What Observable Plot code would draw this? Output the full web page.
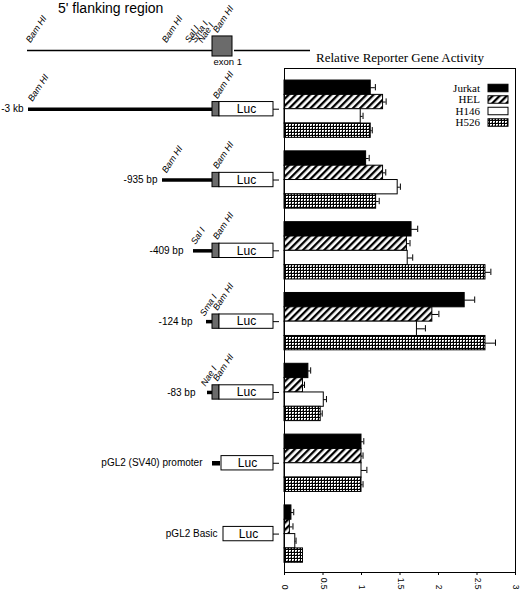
<!DOCTYPE html>
<html>
<head>
<meta charset="utf-8">
<script src="https://cdn.jsdelivr.net/npm/d3@7"></script>
<script src="https://cdn.jsdelivr.net/npm/@observablehq/plot@0.6"></script>
<style>
  body { margin: 0; background: #fff; }
  #fig { position: relative; width: 520px; height: 592px; overflow: hidden; background: #fff; }
  #fig > svg, #fig > div { position: absolute; left: 0; top: 0; }
  #maptitle { font: 14px "Liberation Sans", Arial, sans-serif; line-height: 16px; white-space: nowrap; }
</style>
</head>
<body>
<svg width="0" height="0" style="position:absolute">
  <defs>
    <pattern id="hatch" patternUnits="userSpaceOnUse" width="5" height="5" patternTransform="rotate(45)">
      <rect width="5" height="5" fill="white"></rect>
      <rect x="0" y="0" width="2.3" height="5" fill="black"></rect>
    </pattern>
    <pattern id="check" patternUnits="userSpaceOnUse" width="3" height="3">
      <rect width="3" height="3" fill="black"></rect>
      <rect x="1" y="1" width="2" height="2" fill="white"></rect>
      <rect x="2" y="2" width="1" height="1" fill="#888"></rect>
    </pattern>
  </defs>
</svg>
<div id="fig"></div>
<script>
// ---------- data ----------
const constructs = ["-3 kb", "-935 bp", "-409 bp", "-124 bp", "-83 bp", "pGL2 (SV40) promoter", "pGL2 Basic"];
const series = ["Jurkat", "HEL", "H146", "H526"];

const jurkat    = [1.12, 1.06, 1.65, 2.34, 0.31, 1.00, 0.09];
const jurkatErr = [0.06, 0.04, 0.08, 0.13, 0.03, 0.03, 0.03];
const hel       = [1.28, 1.28, 1.59, 1.92, 0.24, 1.00, 0.07];
const helErr    = [0.04, 0.035, 0.04, 0.085, 0.02, 0.02, 0.04];
const h146      = [0.99, 1.47, 1.60, 1.72, 0.51, 1.00, 0.14];
const h146Err   = [0.03, 0.035, 0.065, 0.11, 0.035, 0.07, 0.01];
const h526      = [1.12, 1.19, 2.61, 2.61, 0.47, 1.00, 0.24];
const h526Err   = [0.02, 0.04, 0.07, 0.13, 0.02, 0.02, 0.0];

const xTicks = [0, 0.5, 1, 1.5, 2, 2.5, 3];
const xTickLabels = ["0", "0.5", "1", "1.5", "2", "2.5", "3"];

const axisTitle = "Relative Reporter Gene Activity";
const mapTitle = "5' flanking region";

// schematic (diagram units, exon start = 0)
const insertStart = [-184, -50, -19, -6, -5, null, null];
const lucStart    = [7, 7, 7, 7, 7, 9, 11];
const lucEnd      = 61;
const labelEnd    = [-189, -55, -29, -20, -17, -10, 5];
const constructSites = [
  {gi: 0, label: "Bam HI", x: -180, lift: 0.5},
  {gi: 0, label: "Bam HI", x: 5, lift: 0.7},
  {gi: 1, label: "Bam HI", x: -46, lift: 0.45},
  {gi: 1, label: "Bam HI", x: 5, lift: 0.75},
  {gi: 2, label: "Sal I", x: -17, lift: 0.4},
  {gi: 2, label: "Bam HI", x: 5, lift: 0.75},
  {gi: 3, label: "Sma I", x: -8, lift: 0.35},
  {gi: 3, label: "Bam HI", x: 5, lift: 0.75},
  {gi: 4, label: "Nae I", x: -7, lift: 0.4},
  {gi: 4, label: "Bam HI", x: 5, lift: 0.75}
];
const mapLines = [[-185, 0], [22, 98]];
const mapSites = [
  {label: "Bam HI", x: -182, lift: 0.5},
  {label: "Bam HI", x: -46, lift: 0.5},
  {label: "Sal I", x: -23, lift: 0.5},
  {label: "Sma I", x: -17, lift: 0.5},
  {label: "Nae I", x: -10, lift: 0.5},
  {label: "Bam HI", x: 5, lift: 1.2}
];

// ---------- build ----------
const values = {Jurkat: jurkat, HEL: hel, H146: h146, H526: h526};
const errors = {Jurkat: jurkatErr, HEL: helErr, H146: h146Err, H526: h526Err};
const fills = {Jurkat: "black", HEL: "url(#hatch)", H146: "white", H526: "url(#check)"};

const topPad = 0.84, period = 4.94, rowsTotal = 35.16;
const rowTop = (gi, si) => topPad + gi * period + si;
const center = gi => topPad + gi * period + 2;
const mapRow = -1.256;

const rows = constructs.flatMap((c, gi) => series.map((s, si) => ({c, gi, s, si, v: values[s][gi], e: errors[s][gi]})));
const errRows = rows.filter(d => d.e > 0);
const idx = constructs.map((c, i) => i);
const withInsert = idx.filter(i => insertStart[i] != null);

const fig = document.getElementById("fig");
const siteStyle = {rotate: -57, textAnchor: "start", lineAnchor: "bottom", fontSize: 9, fontStyle: "italic"};

// schematic plot
const schem = Plot.plot({
  width: 520, height: 592,
  marginLeft: 0, marginRight: 0, marginTop: 68, marginBottom: 20,
  x: {domain: [-212, 308], axis: null},
  y: {domain: [0, rowsTotal], reverse: true, axis: null},
  style: {background: "transparent", fontFamily: "Liberation Sans, Arial, sans-serif", overflow: "visible"},
  marks: [
    Plot.ruleY(mapLines, {y: () => mapRow, x1: d => d[0], x2: d => d[1], stroke: "black", strokeWidth: 1.6}),
    Plot.rect([0], {x1: 0, x2: 20, y1: () => mapRow - 0.98, y2: () => mapRow + 0.42, fill: "#6b6b6b", stroke: "black"}),
    Plot.text(["exon 1"], {x: () => 1, y: () => mapRow, dy: 11, text: d => d, textAnchor: "start", fontSize: 9.5}),
    Plot.text(mapSites, {x: "x", y: d => mapRow - d.lift, text: "label", ...siteStyle}),
    Plot.ruleY(withInsert, {y: i => center(i), x1: i => insertStart[i], x2: 0, stroke: "black", strokeWidth: 3.5}),
    Plot.ruleY([5], {y: i => center(i), x1: 0, x2: 8, stroke: "black", strokeWidth: 4.5}),
    Plot.rect(withInsert, {x1: 0, x2: 7, y1: i => center(i) - 0.5, y2: i => center(i) + 0.5, fill: "#6b6b6b", stroke: "black"}),
    Plot.rect(idx, {x1: i => lucStart[i], x2: lucEnd, y1: i => center(i) - 0.5, y2: i => center(i) + 0.5, fill: "white", stroke: "black"}),
    Plot.text(idx, {x: i => (lucStart[i] + lucEnd) / 2, y: i => center(i), text: () => "Luc", fontSize: 12}),
    Plot.ruleY(idx, {y: i => center(i), x1: lucEnd, x2: lucEnd + 6, stroke: "black", strokeWidth: 1}),
    Plot.text(idx, {x: i => labelEnd[i], y: i => center(i), text: i => constructs[i], textAnchor: "end", fontSize: 10}),
    Plot.text(constructSites, {x: "x", y: d => center(d.gi) - d.lift, text: "label", ...siteStyle})
  ]
});
fig.appendChild(schem);

// bar chart plot
const bars = Plot.plot({
  width: 520, height: 592,
  marginLeft: 284, marginRight: 5, marginTop: 68, marginBottom: 20,
  x: {domain: [0, 3]},
  y: {domain: [0, rowsTotal], reverse: true, axis: null},
  color: {type: "identity"},
  style: {background: "transparent", fontFamily: "Liberation Sans, Arial, sans-serif", overflow: "visible"},
  marks: [
    Plot.rect(rows, {x1: 0, x2: "v", y1: d => rowTop(d.gi, d.si), y2: d => rowTop(d.gi, d.si) + 1, fill: d => fills[d.s], stroke: "black", strokeWidth: 1}),
    Plot.ruleY(errRows, {y: d => rowTop(d.gi, d.si) + 0.5, x1: "v", x2: d => d.v + d.e, stroke: "black", strokeWidth: 1}),
    Plot.ruleX(errRows, {x: d => d.v + d.e, y1: d => rowTop(d.gi, d.si) + 0.28, y2: d => rowTop(d.gi, d.si) + 0.72, stroke: "black", strokeWidth: 1}),
    Plot.frame({stroke: "black", strokeWidth: 1}),
    Plot.axisX({ticks: xTicks, tickSize: 3, tickFormat: () => "", label: null}),
    Plot.text(xTicks, {x: d => d, text: (d, i) => xTickLabels[i], frameAnchor: "bottom", rotate: 90, textAnchor: "end", dy: 17, dx: -2.5, fontSize: 8.5}),
    Plot.text([axisTitle], {frameAnchor: "top", dy: -7, text: d => d, lineAnchor: "bottom", fontFamily: "Liberation Serif, Times New Roman, serif", fontSize: 13})
  ]
});
fig.appendChild(bars);

// legend
const leg = d3.create("svg").attr("width", 520).attr("height", 592);
series.forEach((s, i) => {
  const cy = 88 + i * 11.5;
  leg.append("text").attr("x", 480).attr("y", cy).attr("dy", "0.35em")
    .attr("text-anchor", "end").attr("font-family", "Liberation Serif, Times New Roman, serif")
    .attr("font-size", 11).text(s);
  leg.append("rect").attr("x", 488).attr("y", cy - 3.75).attr("width", 20).attr("height", 7.5)
    .attr("fill", fills[s]).attr("stroke", "black").attr("stroke-width", 1);
});
fig.appendChild(leg.node());

// map title
const t = document.createElement("div");
t.id = "maptitle";
t.textContent = mapTitle;
t.style.left = "58px";
t.style.top = "0px";
fig.appendChild(t);
</script>
</body>
</html>
